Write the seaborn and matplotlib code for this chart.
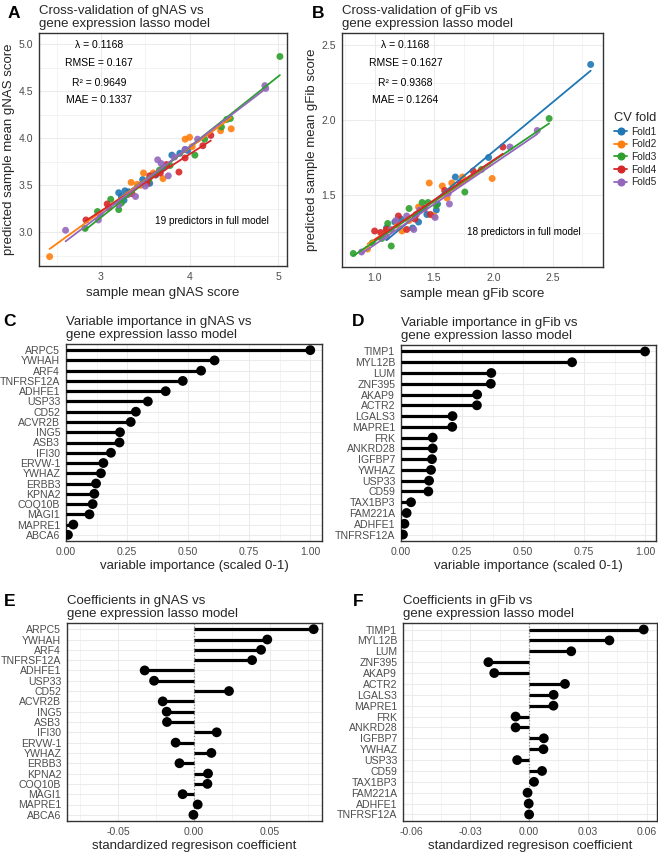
import numpy as np
import pandas as pd
import matplotlib
matplotlib.use("Agg")
import matplotlib.pyplot as plt
from matplotlib.lines import Line2D
import seaborn as sns

# ---------------- data ----------------
folds = ["Fold1", "Fold2", "Fold3", "Fold4", "Fold5"]
fold_colors = ["#1f77b4", "#ff7f0e", "#2ca02c", "#d62728", "#9467bd"]

# Panel A: gNAS cross-validation (observed x, predicted y) per fold
a_f1_x = [3.20, 3.23, 3.26, 3.27, 3.31, 3.47, 3.55, 3.62, 3.70, 3.80, 3.89, 3.95, 3.98]
a_f1_y = [3.42, 3.38, 3.34, 3.44, 3.43, 3.56, 3.52, 3.61, 3.68, 3.82, 3.84, 3.88, 3.87]
a_f2_x = [2.42, 3.30, 3.34, 3.41, 3.45, 3.48, 3.59, 3.70, 3.95, 4.00, 4.03, 4.35, 4.47]
a_f2_y = [2.74, 3.40, 3.53, 3.51, 3.50, 3.63, 3.63, 3.57, 3.99, 4.01, 3.91, 4.08, 4.10]
a_f3_x = [2.82, 2.96, 3.11, 3.20, 3.23, 3.54, 3.66, 3.78, 4.06, 4.17, 4.36, 4.42, 4.46, 5.02]
a_f3_y = [3.04, 3.22, 3.35, 3.24, 3.31, 3.56, 3.66, 3.71, 3.82, 3.99, 4.12, 4.20, 4.21, 4.87]
a_f4_x = [2.83, 3.07, 3.09, 3.35, 3.52, 3.55, 3.61, 3.67, 3.74, 3.88, 3.95, 4.15, 4.24]
a_f4_y = [3.13, 3.30, 3.26, 3.41, 3.52, 3.60, 3.61, 3.63, 3.72, 3.64, 3.79, 3.92, 4.03]
a_f5_x = [2.60, 2.97, 2.99, 3.20, 3.30, 3.39, 3.50, 3.64, 3.68, 3.76, 3.83, 3.95, 4.09, 4.85, 4.86]
a_f5_y = [3.02, 3.13, 3.19, 3.29, 3.40, 3.38, 3.49, 3.77, 3.73, 3.60, 3.80, 3.88, 3.99, 4.56, 4.53]

# Panel B: gFib cross-validation per fold
b_f1_x = [1.10, 1.17, 1.22, 1.32, 1.37, 1.44, 1.52, 1.53, 1.68, 1.96, 2.82]
b_f1_y = [1.28, 1.32, 1.34, 1.28, 1.32, 1.37, 1.40, 1.44, 1.62, 1.75, 2.37]
b_f2_x = [0.94, 1.10, 1.19, 1.23, 1.29, 1.37, 1.46, 1.50, 1.57, 1.61, 1.65, 1.74, 1.99]
b_f2_y = [1.14, 1.26, 1.30, 1.26, 1.33, 1.42, 1.58, 1.36, 1.56, 1.48, 1.58, 1.62, 1.61]
b_f3_x = [0.82, 0.98, 1.06, 1.11, 1.14, 1.29, 1.40, 1.45, 1.52, 1.76, 1.90, 2.47]
b_f3_y = [1.11, 1.18, 1.21, 1.31, 1.16, 1.41, 1.45, 1.45, 1.43, 1.52, 1.67, 2.01]
b_f4_x = [1.00, 1.05, 1.10, 1.20, 1.27, 1.34, 1.35, 1.42, 1.47, 1.59, 1.72, 1.83, 2.08]
b_f4_y = [1.26, 1.25, 1.27, 1.36, 1.27, 1.34, 1.37, 1.41, 1.37, 1.53, 1.58, 1.66, 1.82]
b_f5_x = [0.89, 1.10, 1.14, 1.18, 1.27, 1.33, 1.38, 1.51, 1.62, 1.63, 2.14, 2.37]
b_f5_y = [1.12, 1.22, 1.27, 1.33, 1.36, 1.27, 1.40, 1.35, 1.51, 1.44, 1.82, 1.93]

a_stats = ["λ = 0.1168", "RMSE = 0.167", "R² = 0.9649", "MAE = 0.1337"]
b_stats = ["λ = 0.1168", "RMSE = 0.1627", "R² = 0.9368", "MAE = 0.1264"]
a_note = "19 predictors in full model"
b_note = "18 predictors in full model"

# Panels C/E: gNAS model
nas_genes = ["ARPC5", "YWHAH", "ARF4", "TNFRSF12A", "ADHFE1", "USP33", "CD52", "ACVR2B",
             "ING5", "ASB3", "IFI30", "ERVW-1", "YWHAZ", "ERBB3", "KPNA2", "COQ10B",
             "MAGI1", "MAPRE1", "ABCA6"]
nas_importance = [1.00, 0.608, 0.553, 0.478, 0.408, 0.335, 0.286, 0.265, 0.221, 0.219,
                  0.184, 0.153, 0.143, 0.123, 0.116, 0.109, 0.096, 0.030, 0.008]
nas_coef = [0.0787, 0.0482, 0.0441, 0.0382, -0.0325, -0.0263, 0.0230, -0.0206,
            -0.0180, -0.0178, 0.0149, -0.0121, 0.0114, -0.0096, 0.0092, 0.0088,
            -0.0075, 0.0024, -0.0004]

# Panels D/F: gFib model
fib_genes = ["TIMP1", "MYL12B", "LUM", "ZNF395", "AKAP9", "ACTR2", "LGALS3", "MAPRE1",
             "FRK", "ANKRD28", "IGFBP7", "YWHAZ", "USP33", "CD59", "TAX1BP3", "FAM221A",
             "ADHFE1", "TNFRSF12A"]
fib_importance = [1.00, 0.701, 0.370, 0.368, 0.312, 0.311, 0.211, 0.210, 0.130, 0.130,
                  0.127, 0.123, 0.115, 0.112, 0.041, 0.023, 0.014, 0.008]
fib_coef = [0.0585, 0.0410, 0.0215, -0.0208, -0.0178, 0.0183, 0.0125, 0.0124, -0.0069,
            -0.0069, 0.0075, 0.0073, -0.0061, 0.0066, 0.0025, -0.0008, -0.0002, 0.0000]

# ---------------- style ----------------
sns.set_style("white")
plt.rcParams["font.family"] = ["Liberation Sans", "DejaVu Sans"]
plt.rcParams["axes.unicode_minus"] = False

TICK_COL = "#4D4D4D"
EDGE_COL = "#333333"
GRID_COL = "#EBEBEB"
TICK_FS = 7.6
LAB_FS = 9.5
TITLE_FS = 9.5

W, H = 658, 856
fig = plt.figure(figsize=(W / 100, H / 100), dpi=100)
fig.patch.set_facecolor("white")


def add_ax(x0, y0, x1, y1):
    return fig.add_axes([x0 / W, 1 - y1 / H, (x1 - x0) / W, (y1 - y0) / H])


def style_ax(ax, minor_y=True):
    ax.set_axisbelow(True)
    for s in ax.spines.values():
        s.set_color(EDGE_COL)
        s.set_linewidth(1.0)
    ax.tick_params(which="major", length=2.6, width=0.7, color=EDGE_COL,
                   labelcolor=TICK_COL, labelsize=TICK_FS, pad=1.5)
    ax.tick_params(which="minor", length=0)
    ax.grid(which="major", color=GRID_COL, lw=0.75)
    ax.grid(which="minor", axis="x", color=GRID_COL, lw=0.4)
    if minor_y:
        ax.grid(which="minor", axis="y", color=GRID_COL, lw=0.4)


def build_cv(xs, ys):
    frames = []
    for f, x, y in zip(folds, xs, ys):
        frames.append(pd.DataFrame({"x": x, "y": y, "fold": f}))
    return pd.concat(frames, ignore_index=True)


def cv_panel(ax, df, stats, note, note_pos, title, xlabel, ylabel):
    pal = dict(zip(folds, fold_colors))
    sns.scatterplot(data=df, x="x", y="y", hue="fold", palette=pal, s=25,
                    alpha=0.9, edgecolor="none", ax=ax, legend=False, zorder=3)
    for f in folds:
        sub = df[df["fold"] == f]
        sns.regplot(data=sub, x="x", y="y", scatter=False, ci=None, ax=ax,
                    color=pal[f], line_kws={"lw": 1.3, "zorder": 4})
    ys = [0.948, 0.870, 0.786, 0.712]
    for t, yy in zip(stats, ys):
        ax.text(0.243, yy, t, transform=ax.transAxes, ha="center", va="center",
                fontsize=7.5, color="black")
    ax.text(note_pos[0], note_pos[1], note, transform=ax.transAxes, ha="center",
            va="center", fontsize=7.2, color="black")
    ax.set_title(title, loc="left", fontsize=TITLE_FS, pad=4, linespacing=1.12)
    ax.set_xlabel(xlabel, fontsize=LAB_FS, labelpad=4)
    ax.set_ylabel(ylabel, fontsize=LAB_FS, labelpad=2.5)


# Panel A
axA = add_ax(39, 33, 287, 266)
dfA = build_cv([a_f1_x, a_f2_x, a_f3_x, a_f4_x, a_f5_x],
               [a_f1_y, a_f2_y, a_f3_y, a_f4_y, a_f5_y])
cv_panel(axA, dfA, a_stats, a_note, (0.698, 0.194),
         "Cross-validation of gNAS vs\ngene expression lasso model",
         "sample mean gNAS score", "predicted sample mean gNAS score")
axA.set_xlim(2.30, 5.10)
axA.set_ylim(2.64, 5.12)
axA.set_xticks([3, 4, 5])
axA.set_xticklabels(["3", "4", "5"])
axA.set_xticks([2.5, 3.5, 4.5], minor=True)
axA.set_yticks([3.0, 3.5, 4.0, 4.5, 5.0])
axA.set_yticklabels(["3.0", "3.5", "4.0", "4.5", "5.0"])
axA.set_yticks([2.75, 3.25, 3.75, 4.25, 4.75], minor=True)
style_ax(axA)

# Panel B
axB = add_ax(342, 33, 603, 267)
dfB = build_cv([b_f1_x, b_f2_x, b_f3_x, b_f4_x, b_f5_x],
               [b_f1_y, b_f2_y, b_f3_y, b_f4_y, b_f5_y])
cv_panel(axB, dfB, b_stats, b_note, (0.696, 0.151),
         "Cross-validation of gFib vs\ngene expression lasso model",
         "sample mean gFib score", "predicted sample mean gFib score")
axB.set_xlim(0.725, 2.924)
axB.set_ylim(1.02, 2.58)
axB.set_xticks([1.0, 1.5, 2.0, 2.5])
axB.set_xticklabels(["1.0", "1.5", "2.0", "2.5"])
axB.set_xticks([0.75, 1.25, 1.75, 2.25, 2.75], minor=True)
axB.set_yticks([1.5, 2.0, 2.5])
axB.set_yticklabels(["1.5", "2.0", "2.5"])
axB.set_yticks([1.25, 1.75, 2.25], minor=True)
style_ax(axB)

handles = [Line2D([], [], color=c, marker="o", markersize=4.8, lw=1.3)
           for c in fold_colors]
leg = fig.legend(handles, folds, title="CV fold", loc="upper left",
                 bbox_to_anchor=(610 / W, 1 - 108 / H), frameon=False,
                 fontsize=7.3, title_fontsize=9.3, handlelength=1.3,
                 handletextpad=0.4, labelspacing=0.26, borderaxespad=0,
                 alignment="left")


def lollipop(ax, genes, vals, title, xlabel, xpad, zero_line=False):
    df = pd.DataFrame({"gene": genes, "val": vals})
    df["pos"] = np.arange(len(df))
    ax.hlines(df["pos"], 0, df["val"], color="black", lw=2.3, zorder=3)
    sns.scatterplot(data=df, x="val", y="pos", color="black", s=50,
                    edgecolor="none", ax=ax, zorder=4, legend=False)
    if zero_line:
        ax.axvline(0, color="#8C8C8C", ls=(0, (1, 1.5)), lw=0.9, zorder=2)
    ax.set_yticks(df["pos"])
    ax.set_yticklabels(df["gene"])
    ax.set_ylim(len(df) - 1 + 0.6, -0.6)
    ax.set_title(title, loc="left", fontsize=TITLE_FS, pad=4, linespacing=1.12)
    ax.set_xlabel(xlabel, fontsize=LAB_FS, labelpad=xpad)
    ax.set_ylabel("")
    style_ax(ax, minor_y=False)


imp_ticks = [0, 0.25, 0.5, 0.75, 1.0]
imp_labels = ["0.00", "0.25", "0.50", "0.75", "1.00"]
imp_minor = [0.125, 0.375, 0.625, 0.875]

axC = add_ax(66, 344, 322, 541)
lollipop(axC, nas_genes, nas_importance,
         "Variable importance in gNAS vs\ngene expression lasso model",
         "variable importance (scaled 0-1)", 2.5)
axC.set_xlim(0, 1.048)
axC.set_xticks(imp_ticks)
axC.set_xticklabels(imp_labels)
axC.set_xticks(imp_minor, minor=True)

axD = add_ax(401, 345, 656, 541)
lollipop(axD, fib_genes, fib_importance,
         "Variable importance in gFib vs\ngene expression lasso model",
         "variable importance (scaled 0-1)", 2.5)
axD.set_xlim(0, 1.045)
axD.set_xticks(imp_ticks)
axD.set_xticklabels(imp_labels)
axD.set_xticks(imp_minor, minor=True)

axE = add_ax(67, 623, 322, 821)
lollipop(axE, nas_genes, nas_coef,
         "Coefficients in gNAS vs\ngene expression lasso model",
         "standardized regresison coefficient", 2.5, zero_line=True)
axE.set_xlim(-0.0836, 0.0842)
axE.set_xticks([-0.05, 0, 0.05])
axE.set_xticklabels(["-0.05", "0.00", "0.05"])
axE.set_xticks([-0.075, -0.025, 0.025, 0.075], minor=True)

axF = add_ax(403, 623, 657, 821)
lollipop(axF, fib_genes, fib_coef,
         "Coefficients in gFib vs\ngene expression lasso model",
         "standardized regresison coefficient", 2.5, zero_line=True)
axF.set_xlim(-0.0644, 0.0653)
axF.set_xticks([-0.06, -0.03, 0, 0.03, 0.06])
axF.set_xticklabels(["-0.06", "-0.03", "0.00", "0.03", "0.06"])
axF.set_xticks([-0.045, -0.015, 0.015, 0.045], minor=True)

# panel letters
for lab, (px, py) in {"A": (14, 13), "B": (318, 13), "C": (10, 321),
                      "D": (358, 321), "E": (10, 601), "F": (358, 601)}.items():
    fig.text(px / W, 1 - py / H, lab, fontsize=12.5, fontweight="bold",
             ha="center", va="center", color="black")

fig.savefig("out.png", dpi=100, facecolor="white")
